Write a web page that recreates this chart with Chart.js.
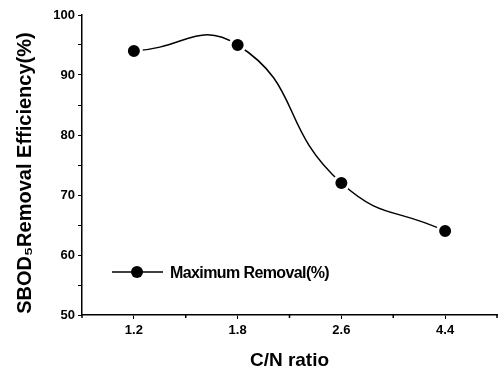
<!DOCTYPE html>
<html>
<head>
<meta charset="utf-8">
<script src="https://cdn.jsdelivr.net/npm/chart.js@4/dist/chart.umd.min.js"></script>
<style>
  html, body { margin: 0; padding: 0; background: #fff; }
  #wrap { width: 498px; height: 376px; position: relative; }
</style>
</head>
<body>
<div id="wrap"><canvas id="chart"></canvas></div>
<script>
// C/N ratio vs maximum SBOD5 removal
const cnRatios = ['1.2', '1.8', '2.6', '4.4'];
const maxRemoval = [94, 95, 72, 64];
const seriesName = 'Maximum Removal(%)';
const yTitle = 'SBOD\u2085Removal Efficiency(%)';
const xTitle = 'C/N ratio';

const FONT = "'Liberation Sans', Arial, sans-serif";

// minor x ticks, in-plot legend and the y title (drawn a bit below centre like the original)
const extras = {
  id: 'extras',
  afterDraw(chart) {
    const { ctx, chartArea, scales } = chart;
    const x = scales.x;
    ctx.save();
    ctx.strokeStyle = '#000';
    ctx.fillStyle = '#000';
    ctx.lineWidth = 1.5;
    for (let i = 0; i <= cnRatios.length; i++) {
      const px = x.getPixelForValue(i - 0.5);
      ctx.beginPath();
      ctx.moveTo(px, chartArea.bottom);
      ctx.lineTo(px, chartArea.bottom + 3);
      ctx.stroke();
    }

    // legend
    const lx = chartArea.left + 30, ly = chartArea.top + chartArea.height * 0.857;
    ctx.beginPath();
    ctx.moveTo(lx, ly);
    ctx.lineTo(lx + 51, ly);
    ctx.stroke();
    ctx.beginPath();
    ctx.arc(lx + 25, ly, 6, 0, Math.PI * 2);
    ctx.fill();
    ctx.font = 'bold 16px ' + FONT;
    ctx.letterSpacing = '-0.6px';
    ctx.textBaseline = 'middle';
    ctx.fillText(seriesName, lx + 58, ly + 1);

    // y title
    ctx.letterSpacing = '0px';
    ctx.translate(25, chartArea.top + chartArea.height * 0.527);
    ctx.rotate(-Math.PI / 2);
    ctx.font = 'bold 20px ' + FONT;
    ctx.textAlign = 'center';
    ctx.fillText(yTitle, 0, 0);
    ctx.restore();
  }
};

new Chart(document.getElementById('chart'), {
  type: 'line',
  data: {
    labels: cnRatios,
    datasets: [{
      label: seriesName,
      data: maxRemoval,
      borderColor: '#000',
      borderWidth: 1.5,
      tension: 0.5,
      pointRadius: 7.5,
      pointBackgroundColor: '#000',
      pointBorderColor: '#fff',
      pointBorderWidth: 3,
      clip: false
    }]
  },
  options: {
    responsive: true,
    maintainAspectRatio: false,
    animation: false,
    layout: { autoPadding: false, padding: { top: 15, right: 1, left: 0, bottom: 0 } },
    plugins: { legend: { display: false }, tooltip: { enabled: false } },
    scales: {
      x: {
        offset: true,
        border: { color: '#000', width: 1.5 },
        grid: { display: true, drawOnChartArea: false, color: '#000', tickLength: 4, offset: false },
        ticks: { color: '#000', font: { family: FONT, size: 13, weight: 'bold' }, padding: 4 },
        title: { display: true, text: xTitle, color: '#000', font: { family: FONT, size: 19, weight: 'bold' }, padding: { top: 6 } },
        afterFit(s) { s.height = 61; }
      },
      y: {
        min: 50, max: 100,
        border: { color: '#000', width: 1.5 },
        grid: { display: true, drawOnChartArea: false, color: '#000', tickLength: 4 },
        ticks: {
          stepSize: 5,
          color: '#000',
          font: { family: FONT, size: 13, weight: 'bold' },
          padding: 3,
          callback: v => (v % 10 === 0 ? v : '')
        },
        afterFit(s) { s.width = 82; }
      }
    }
  },
  plugins: [extras]
});
</script>
</body>
</html>
